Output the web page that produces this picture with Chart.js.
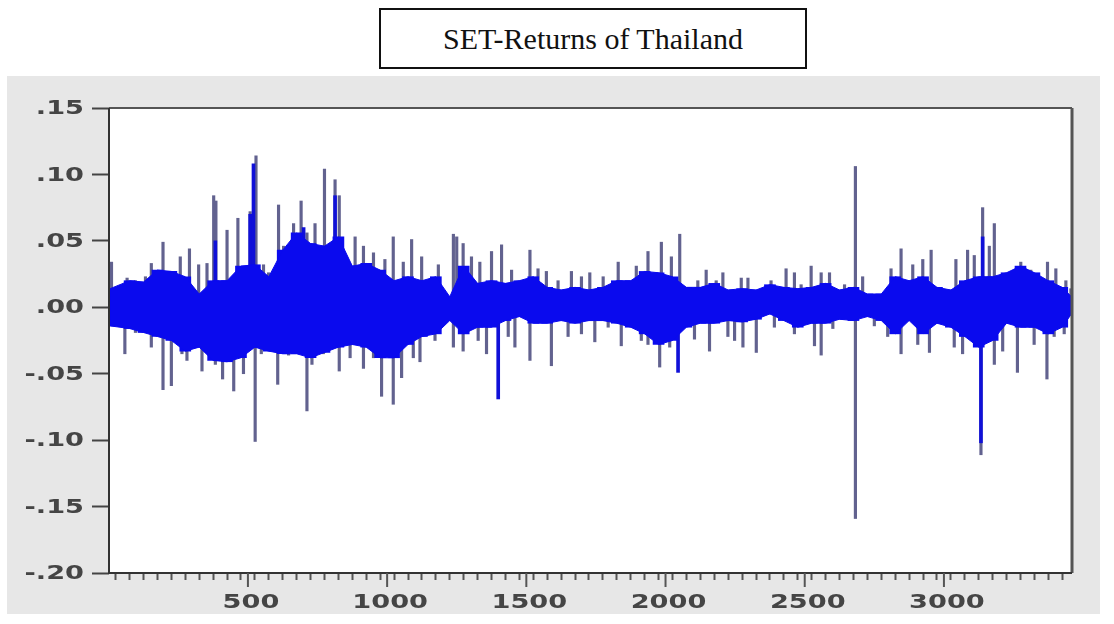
<!DOCTYPE html>
<html>
<head>
<meta charset="utf-8">
<script src="https://cdn.jsdelivr.net/npm/chart.js@4.4.0/dist/chart.umd.min.js"></script>
<style>
    html, body { margin: 0; padding: 0; background: #fff; }
    body { width: 1114px; height: 624px; position: relative; overflow: hidden; }
    #title-box {
        position: absolute; left: 379px; top: 8px; width: 424px; height: 57px;
        border: 2px solid #111; box-sizing: content-box;
        font-family: "Liberation Serif", "Times New Roman", serif; font-size: 30px; color: #111;
        display: flex; align-items: center; justify-content: center;
    }
    #panel { position: absolute; left: 7px; top: 76px; width: 1093px; height: 538px; background: #e7e7e7; }
    #chart-wrap { position: absolute; left: 0; top: 0; width: 1114px; height: 624px; }
</style>
</head>
<body>
<div id="title-box">SET-Returns of Thailand</div>
<div id="panel"></div>
<div id="chart-wrap"><canvas id="setChart" width="1114" height="624"></canvas></div>

<script>
// x axis ticks
const xMin = 1;
const xMax = 3460;
const xMajorTicks = [500, 1000, 1500, 2000, 2500, 3000];

// dense band of returns, one value per 50 observations (position, upper, lower)
const coreX = [5,75,125,175,225,275,325,375,425,475,525,575,625,675,725,775,825,875,
    925,975,1025,1075,1125,1175,1225,1275,1325,1375,1425,1475,1525,1575,1625,1675,
    1725,1775,1825,1875,1925,1975,2025,2075,2125,2175,2225,2275,2325,2375,2425,2475,2525,2575,
    2625,2675,2725,2775,2825,2875,2925,2975,3025,3075,3125,3175,3225,3275,3325,3375,3425,3458];
const coreHi = [0.014,0.020,0.019,0.028,0.027,0.023,0.010,0.020,0.020,0.031,0.032,0.023,0.043,0.056,0.048,0.046,0.053,0.031,
    0.033,0.028,0.020,0.023,0.020,0.023,0.008,0.031,0.018,0.020,0.018,0.020,0.023,0.015,0.013,0.015,
    0.013,0.015,0.020,0.020,0.027,0.026,0.023,0.015,0.015,0.018,0.013,0.014,0.013,0.017,0.015,0.014,0.015,0.018,
    0.013,0.015,0.010,0.010,0.023,0.020,0.023,0.015,0.013,0.020,0.023,0.023,0.026,0.031,0.026,0.020,0.015,0.008];
const coreLo = [-0.014,-0.016,-0.019,-0.022,-0.025,-0.033,-0.030,-0.040,-0.041,-0.038,-0.030,-0.033,-0.035,-0.035,-0.038,-0.034,-0.030,-0.028,
    -0.030,-0.038,-0.038,-0.028,-0.022,-0.020,-0.010,-0.020,-0.015,-0.015,-0.010,-0.007,-0.012,-0.012,-0.010,-0.012,
    -0.010,-0.010,-0.012,-0.015,-0.020,-0.028,-0.025,-0.015,-0.012,-0.012,-0.010,-0.011,-0.009,-0.005,-0.010,-0.015,-0.012,-0.012,
    -0.009,-0.010,-0.007,-0.010,-0.020,-0.010,-0.020,-0.012,-0.015,-0.022,-0.030,-0.025,-0.012,-0.015,-0.015,-0.020,-0.015,-0.005];

// single large returns sticking out of the band
const upObs = [10,66,96,132,153,195,257,290,323,353,377,385,425,464,508,529,556,574,610,628,664,691,712,741,775,813,828,855,
    885,915,951,992,1022,1058,1088,1124,1184,1238,1250,1273,1303,1333,1375,1411,1447,1513,1542,1572,1614,1662,1698,
    1728,1776,1830,1895,1937,1985,2021,2051,2116,2146,2182,2206,2272,2296,2379,2433,2463,2487,2523,2559,2589,
    2643,2682,2708,2810,2846,2888,2924,2954,3043,3085,3109,3139,3163,3181,3211,3276,3312,3372,3402,3438,3456];
const upVal = [0.034,0.022,0.020,0.023,0.033,0.049,0.038,0.044,0.032,0.033,0.084,0.080,0.058,0.067,0.072,0.114,0.032,0.026,0.077,0.046,0.063,0.080,0.056,0.063,0.104,0.096,0.084,0.037,
    0.053,0.046,0.041,0.036,0.053,0.034,0.051,0.038,0.032,0.055,0.053,0.048,0.038,0.034,0.042,0.047,0.028,0.043,0.029,0.027,0.020,0.027,0.023,
    0.026,0.023,0.034,0.031,0.042,0.049,0.038,0.055,0.020,0.028,0.020,0.026,0.022,0.022,0.020,0.029,0.026,0.017,0.031,0.026,0.026,
    0.017,0.106,0.023,0.029,0.044,0.032,0.036,0.043,0.036,0.043,0.039,0.075,0.046,0.063,0.023,0.034,0.028,0.034,0.029,0.020,0.014];
const downObs = [58,96,153,195,225,263,281,335,383,409,449,484,526,548,574,607,646,676,712,730,771,801,828,867,
    915,951,980,1022,1052,1094,1118,1172,1238,1273,1327,1357,1435,1459,1513,1590,1650,1698,
    1746,1794,1841,1913,1937,1979,2015,2104,2158,2224,2248,2278,2326,2391,2463,2535,2559,
    2601,2682,2750,2798,2846,2906,2948,3037,3067,3133,3181,3211,3264,3324,3370,3396,3432];
const downVal = [-0.035,-0.019,-0.030,-0.062,-0.059,-0.035,-0.040,-0.048,-0.043,-0.054,-0.063,-0.050,-0.101,-0.035,-0.030,-0.058,-0.036,-0.028,-0.078,-0.043,-0.035,-0.020,-0.048,-0.038,
    -0.046,-0.038,-0.067,-0.073,-0.053,-0.038,-0.041,-0.025,-0.030,-0.033,-0.025,-0.035,-0.022,-0.030,-0.040,-0.044,-0.022,-0.020,
    -0.026,-0.015,-0.029,-0.025,-0.028,-0.045,-0.030,-0.024,-0.033,-0.022,-0.025,-0.030,-0.034,-0.015,-0.020,-0.029,-0.036,
    -0.016,-0.159,-0.014,-0.022,-0.035,-0.028,-0.034,-0.030,-0.035,-0.111,-0.043,-0.033,-0.049,-0.028,-0.054,-0.022,-0.020];

// spikes that show in full blue
const blueObs = [383,508,520,700,813,1399,2045,3133,3139];
const blueVal = [0.050,0.070,0.108,0.060,0.084,-0.069,-0.049,-0.102,0.053];

const labelFont = 'bold 20px "DejaVu Sans"';
const labelStretch = 1.36;
const bandBlue = '#0a0aee';
const spikeGrey = '#62628f';

function stretchedText(ctx, text, x, y, align) {
    ctx.save();
    ctx.translate(x, y);
    ctx.scale(labelStretch, 1);
    ctx.textAlign = align;
    ctx.textBaseline = 'middle';
    ctx.fillText(text, 0, 0);
    ctx.restore();
}

function yLabel(v) {
    return (v < -1e-9 ? '-' : '') + Math.abs(v).toFixed(2).replace(/^0/, '');
}

const plotFrame = {
    id: 'plotFrame',
    beforeDraw(chart) {
        const { ctx, chartArea: a } = chart;
        ctx.save();
        ctx.fillStyle = '#ffffff';
        ctx.fillRect(a.left, a.top, a.right - a.left, a.bottom - a.top);
        ctx.restore();
    },
    afterDraw(chart) {
        const { ctx, chartArea: a } = chart;
        const xs = chart.scales.x;
        const ys = chart.scales.y;
        ctx.save();
        ctx.strokeStyle = '#555';
        ctx.lineWidth = 2;
        ctx.beginPath();
        ctx.moveTo(a.left, a.top); ctx.lineTo(a.right, a.top);
        ctx.stroke();
        ctx.lineWidth = 3;
        ctx.beginPath();
        ctx.moveTo(a.right, a.top); ctx.lineTo(a.right, a.bottom);
        ctx.stroke();
        ctx.strokeStyle = '#333';
        ctx.lineWidth = 2;
        ctx.beginPath();
        ctx.moveTo(a.left, a.top); ctx.lineTo(a.left, a.bottom); ctx.lineTo(a.right, a.bottom);
        ctx.stroke();
        // longer ticks for the labelled values
        ctx.strokeStyle = '#555';
        xMajorTicks.forEach(v => {
            const px = xs.getPixelForValue(v);
            ctx.beginPath();
            ctx.moveTo(px, a.bottom); ctx.lineTo(px, a.bottom + 14);
            ctx.stroke();
        });
        // tick labels, drawn wide like the original export
        ctx.fillStyle = '#454545';
        ctx.font = labelFont;
        ys.ticks.forEach(t => stretchedText(ctx, yLabel(t.value), 84, ys.getPixelForValue(t.value) + 1, 'right'));
        xMajorTicks.forEach(v => stretchedText(ctx, String(v), xs.getPixelForValue(v) + 3, a.bottom + 30, 'center'));
        ctx.restore();
    }
};

window.onload = function() {
    const ctx = document.getElementById('setChart').getContext('2d');

    new Chart(ctx, {
        type: 'bar',
        data: {
            datasets: [
                {
                    type: 'line', label: 'band upper',
                    data: coreX.map((x, i) => ({ x: x, y: coreHi[i] })),
                    borderColor: bandBlue, borderWidth: 1, pointRadius: 0,
                    backgroundColor: bandBlue, fill: '+1'
                },
                {
                    type: 'line', label: 'band lower',
                    data: coreX.map((x, i) => ({ x: x, y: coreLo[i] })),
                    borderColor: bandBlue, borderWidth: 1, pointRadius: 0, fill: false
                },
                {
                    label: 'band blocks',
                    data: coreX.map((x, i) => ({ x: x, y: [coreLo[i], coreHi[i]] })),
                    backgroundColor: bandBlue, barThickness: 11, grouped: false
                },
                {
                    label: 'blue spikes',
                    data: blueObs.map((x, i) => ({ x: x, y: [0, blueVal[i]] })),
                    backgroundColor: '#1010d8', barThickness: 3, grouped: false
                },
                {
                    label: 'up',
                    data: upObs.map((x, i) => ({ x: x, y: [0, upVal[i]] })),
                    backgroundColor: spikeGrey, barThickness: 2.5, grouped: false
                },
                {
                    label: 'down',
                    data: downObs.map((x, i) => ({ x: x, y: [0, downVal[i]] })),
                    backgroundColor: spikeGrey, barThickness: 2.5, grouped: false
                }
            ]
        },
        options: {
            responsive: false,
            animation: false,
            layout: { padding: { left: 8, top: 108, right: 42, bottom: 10 } },
            plugins: { legend: { display: false }, tooltip: { enabled: false }, title: { display: false } },
            scales: {
                x: {
                    type: 'linear', min: xMin, max: xMax, offset: false,
                    afterFit: s => { s.height = 41; },
                    grid: { drawOnChartArea: false, tickLength: 7, tickWidth: 2, tickColor: '#555' },
                    border: { display: false },
                    ticks: { display: false, stepSize: 50, includeBounds: false, autoSkip: false }
                },
                y: {
                    min: -0.20, max: 0.15,
                    afterFit: s => { s.width = 101; },
                    grid: { drawOnChartArea: false, tickLength: 17, tickWidth: 2, tickColor: '#444' },
                    border: { display: false },
                    ticks: { display: false, stepSize: 0.05 }
                }
            }
        },
        plugins: [plotFrame]
    });
};
</script>
</body>
</html>
